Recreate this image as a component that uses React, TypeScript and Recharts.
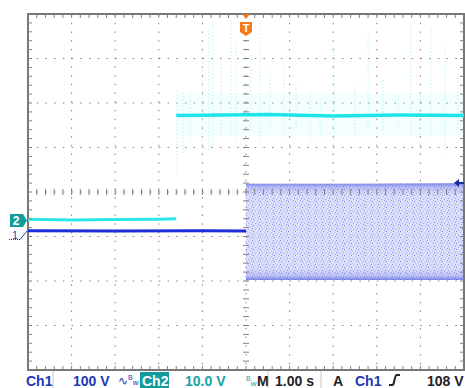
import { ComposedChart, XAxis, YAxis, CartesianGrid, Line, Area, Scatter, ReferenceLine, ReferenceDot, ReferenceArea } from 'recharts';

// time base 1.00 s/div, Ch1 100 V/div, Ch2 10.0 V/div
const xTicks = [-5, -4, -3, -2, -1, 0, 1, 2, 3, 4, 5];
const divTicks = [-4, -3, -2, -1, 0, 1, 2, 3, 4];

// Ch1: idle until the trigger, then the burst band (min / max in V)
const ch1Idle = [
  { t: -5, v: 0.5 },
  { t: -3, v: 0 },
  { t: -1, v: 0.4 },
  { t: 0, v: 0 },
];
const ch1Burst = [
  { t: 0, range: [-110, 106] },
  { t: 2.5, range: [-110, 106] },
  { t: 5, range: [-110, 107] },
];
const ch1TriggerLevel = 108;

// Ch2: low level before -1.6 s, high level after
const ch2Low = [
  { t: -5, v: 0.3 },
  { t: -4, v: 0.1 },
  { t: -3, v: 0.2 },
  { t: -2, v: 0.3 },
  { t: -1.6, v: 0.4 },
];
const ch2High = [
  { t: -1.6, v: 23.6 },
  { t: -0.5, v: 23.7 },
  { t: 0.5, v: 23.8 },
  { t: 2, v: 23.5 },
  { t: 3.5, v: 23.7 },
  { t: 5, v: 23.6 },
];
const ch2Fuzz = [
  { t: -1.6, range: [19, 28.5] },
  { t: 5, range: [19, 28.5] },
];
// noise spikes on Ch2: [time, low V, high V]
const ch2Spikes = [
  [-1.58, 10.7, 29.3], [-1.44, 15.2, 28.9], [-1.28, 18.1, 29.3], [-0.99, 16.3, 35.4],
  [-0.85, 15.8, 42.8], [-0.76, 17.0, 45.1], [-0.57, 19.2, 37.2], [-0.34, 19.7, 45.7],
  [-0.23, 16.5, 40.6], [0.11, 20.3, 37.2], [0.32, 17.4, 45.1], [0.55, 20.3, 33.8],
  [0.87, 18.8, 35.4], [1.15, 20.8, 30.4], [1.47, 18.1, 29.3], [1.7, 18.5, 27.1],
  [2.02, 18.1, 39.0], [2.5, 19.2, 30.9], [2.8, 20.8, 42.1], [3.14, 20.3, 31.6],
  [3.49, 21.5, 28.2], [3.78, 19.7, 43.9], [3.99, 19.2, 29.3], [4.24, 18.8, 43.5],
  [4.56, 15.2, 39.0], [4.86, 20.8, 33.1],
];

const minorX = Array.from({ length: 51 }, (_, i) => -5 + i * 0.2);
const minorY = Array.from({ length: 41 }, (_, i) => -4 + i * 0.2);
const gridTicks = [
  ...minorX.map((t) => ({ t, y: 4, kind: 'top' })),
  ...minorX.map((t) => ({ t, y: -4, kind: 'bottom' })),
  ...minorX.map((t) => ({ t, y: 0, kind: 'hmid' })),
  ...minorY.map((y) => ({ t: -5, y, kind: 'left' })),
  ...minorY.map((y) => ({ t: 5, y, kind: 'right' })),
  ...minorY.map((y) => ({ t: 0, y, kind: 'vmid' })),
];

const BLUE = '#2038b4';
const TEAL = '#139c9c';
const GRID = '#808080';
const font = 'Liberation Sans, Arial, sans-serif';

const renderTick = (p: any) => {
  const { cx, cy, payload } = p;
  const k = payload.kind;
  let x1 = cx, x2 = cx, y1 = cy, y2 = cy;
  if (k === 'top') y2 = cy + 4;
  else if (k === 'bottom') y1 = cy - 4;
  else if (k === 'hmid') { y1 = cy - 3; y2 = cy + 3; }
  else if (k === 'left') x2 = cx + 4;
  else if (k === 'right') x1 = cx - 4;
  else { x1 = cx - 3; x2 = cx + 3; }
  return <line x1={x1} y1={y1} x2={x2} y2={y2} stroke={GRID} strokeWidth={1} />;
};

const TriggerMark = (p: any) => {
  const { cx, cy } = p;
  return (
    <g>
      <polygon points={`${cx - 4},${cy} ${cx + 4},${cy} ${cx},${cy + 5}`} fill="#f47a1c" />
      <path d={`M${cx - 6},${cy + 8} h12 v10 l-6,4 l-6,-4 z`} fill="#f47a1c" />
      <text x={cx} y={cy + 18} textAnchor="middle" fill="#fff" fontSize={11} fontWeight="bold" fontFamily={font}>T</text>
    </g>
  );
};

const Ch2Mark = (p: any) => {
  const { cx, cy } = p;
  return (
    <g>
      <path d={`M${cx - 18},${cy - 6.5} h13 l4,6.5 l-4,6.5 h-13 z`} fill={TEAL} />
      <text x={cx - 12} y={cy + 4.5} textAnchor="middle" fill="#fff" fontSize={12} fontWeight="bold" fontFamily={font}>2</text>
    </g>
  );
};

const Ch1Mark = (p: any) => {
  const { cx, cy } = p;
  return (
    <g>
      <text x={cx - 13} y={cy + 8} textAnchor="middle" fill={BLUE} fontSize={10} fontFamily={font}>1</text>
      <line x1={cx - 19} y1={cy + 8.5} x2={cx - 8} y2={cy + 8.5} stroke={BLUE} strokeWidth={1} strokeDasharray="1 1" />
      <line x1={cx - 8} y1={cy + 8.5} x2={cx - 1} y2={cy} stroke={BLUE} strokeWidth={1} />
    </g>
  );
};

const LevelMark = (p: any) => {
  const { cx, cy } = p;
  return (
    <g>
      <polygon points={`${cx - 10},${cy} ${cx - 5},${cy - 4} ${cx - 5},${cy + 4}`} fill="#1a2a9c" />
      <line x1={cx - 6} y1={cy} x2={cx} y2={cy} stroke="#1a2a9c" strokeWidth={2} />
    </g>
  );
};

const StatusBar = () => (
  <svg width={465} height={18} style={{ position: 'absolute', left: 0, top: 370 }}>
    <g fontFamily={font} fontSize={14} fontWeight="bold">
      <line x1={53} y1={1} x2={53} y2={18} stroke="#c8c8c8" />
      <line x1={268} y1={1} x2={268} y2={18} stroke="#c8c8c8" />
      <line x1={321} y1={1} x2={321} y2={18} stroke="#c8c8c8" />
      <text x={26} y={16} fill={BLUE}>Ch1</text>
      <text x={73} y={16} fill={BLUE}>100 V</text>
      <text x={118} y={15} fill={BLUE} fontSize={12} fontWeight="normal">
        ∿<tspan fontSize={7} dy={-5}>B</tspan><tspan fontSize={8} dy={5}>w</tspan>
      </text>
      <rect x={140} y={2} width={29} height={16} fill={TEAL} />
      <text x={142} y={16} fill="#fff">Ch2</text>
      <text x={185} y={16} fill="#17a3a3">10.0 V</text>
      <text x={246} y={16} fill="#17a3a3" fontSize={8} fontWeight="normal">
        <tspan fontSize={7} dy={-5}>B</tspan><tspan dy={5}>w</tspan>
      </text>
      <text x={257} y={16} fill="#222">M</text>
      <text x={275} y={16} fill="#222">1.00 s</text>
      <text x={333} y={16} fill="#222">A</text>
      <text x={355} y={16} fill={BLUE}>Ch1</text>
      <path d="M389,15 h3 q1.5,0 2,-3 l1,-4 q0.6,-3 2,-3 h3" fill="none" stroke="#222" strokeWidth={2} />
      <text x={427} y={16} fill="#222">108 V</text>
    </g>
  </svg>
);

export default function App() {
  return (
    <div style={{ position: 'relative', width: 465, height: 388, overflow: 'hidden', background: '#fff' }}>
      <style>{'body{margin:0}'}</style>
      <svg width={0} height={0} style={{ position: 'absolute' }}>
        <defs>
          <pattern id="speckle" width={7} height={6} patternUnits="userSpaceOnUse">
            <rect width={7} height={6} fill="#dcdffa" />
            <rect x={0} y={0} width={1} height={1} fill="#8590ec" />
            <rect x={3} y={1} width={1} height={1} fill="#a6adf1" />
            <rect x={1} y={3} width={1} height={1} fill="#7983e8" />
            <rect x={5} y={4} width={1} height={1} fill="#b0b6f3" />
            <rect x={6} y={2} width={1} height={1} fill="#959dee" />
            <rect x={2} y={5} width={1} height={1} fill="#c2c7f6" />
            <rect x={4} y={0} width={1} height={1} fill="#ccd0f7" />
          </pattern>
          <linearGradient id="bandEdge" x1="0" y1="0" x2="0" y2="1">
            <stop offset="0%" stopColor="#5d68e4" stopOpacity={0.75} />
            <stop offset="4%" stopColor="#5d68e4" stopOpacity={0.25} />
            <stop offset="12%" stopColor="#5d68e4" stopOpacity={0} />
            <stop offset="88%" stopColor="#5d68e4" stopOpacity={0} />
            <stop offset="96%" stopColor="#5d68e4" stopOpacity={0.25} />
            <stop offset="100%" stopColor="#5d68e4" stopOpacity={0.75} />
          </linearGradient>
        </defs>
      </svg>
      <ComposedChart width={465} height={388} margin={{ top: 14, right: 1, bottom: 18, left: 28 }}>
        <XAxis type="number" dataKey="t" domain={[-5, 5]} ticks={xTicks} hide allowDataOverflow />
        <YAxis yAxisId="div" type="number" dataKey="y" domain={[-4, 4]} ticks={divTicks} hide allowDataOverflow />
        <YAxis yAxisId="ch1" type="number" domain={[-312.4, 487.6]} hide allowDataOverflow />
        <YAxis yAxisId="ch2" type="number" domain={[-33.6, 46.4]} hide allowDataOverflow />
        <CartesianGrid yAxisId="div" stroke={GRID} strokeDasharray="1.5 7.22" />
        <Area yAxisId="ch1" data={ch1Burst} dataKey="range" type="linear" fill="url(#speckle)" fillOpacity={1} stroke="none" isAnimationActive={false} />
        <Area yAxisId="ch1" data={ch1Burst} dataKey="range" type="linear" fill="url(#bandEdge)" fillOpacity={1} stroke="none" isAnimationActive={false} />
        <Area yAxisId="ch2" data={ch2Fuzz} dataKey="range" type="linear" fill="#aef4f6" fillOpacity={0.12} stroke="none" isAnimationActive={false} />
        {ch2Spikes.map(([t, lo, hi], i) => (
          <ReferenceLine key={i} yAxisId="ch2" segment={[{ x: t, y: lo }, { x: t, y: hi }]} stroke="#9af0f3" strokeWidth={1} strokeDasharray="1 2.5" />
        ))}
        <Line yAxisId="ch1" data={ch1Idle} dataKey="v" type="linear" stroke="#1c2ed8" strokeWidth={3} dot={false} isAnimationActive={false} />
        <Line yAxisId="ch2" data={ch2Low} dataKey="v" type="linear" stroke="#2ee6ec" strokeWidth={3} dot={false} isAnimationActive={false} />
        <Line yAxisId="ch2" data={ch2High} dataKey="v" type="linear" stroke="#1ee4ea" strokeWidth={3.5} dot={false} isAnimationActive={false} />
        <Scatter yAxisId="div" data={gridTicks} shape={renderTick} isAnimationActive={false} />
        <ReferenceArea yAxisId="div" x1={-5} x2={5} y1={-4} y2={4} fill="none" stroke="#777" strokeWidth={2} />
        <ReferenceDot yAxisId="div" x={0} y={4} shape={TriggerMark} />
        <ReferenceDot yAxisId="ch2" x={-5} y={0} shape={Ch2Mark} />
        <ReferenceDot yAxisId="ch1" x={-5} y={0} shape={Ch1Mark} />
        <ReferenceDot yAxisId="ch1" x={5} y={ch1TriggerLevel} shape={LevelMark} />
      </ComposedChart>
      <StatusBar />
    </div>
  );
}
